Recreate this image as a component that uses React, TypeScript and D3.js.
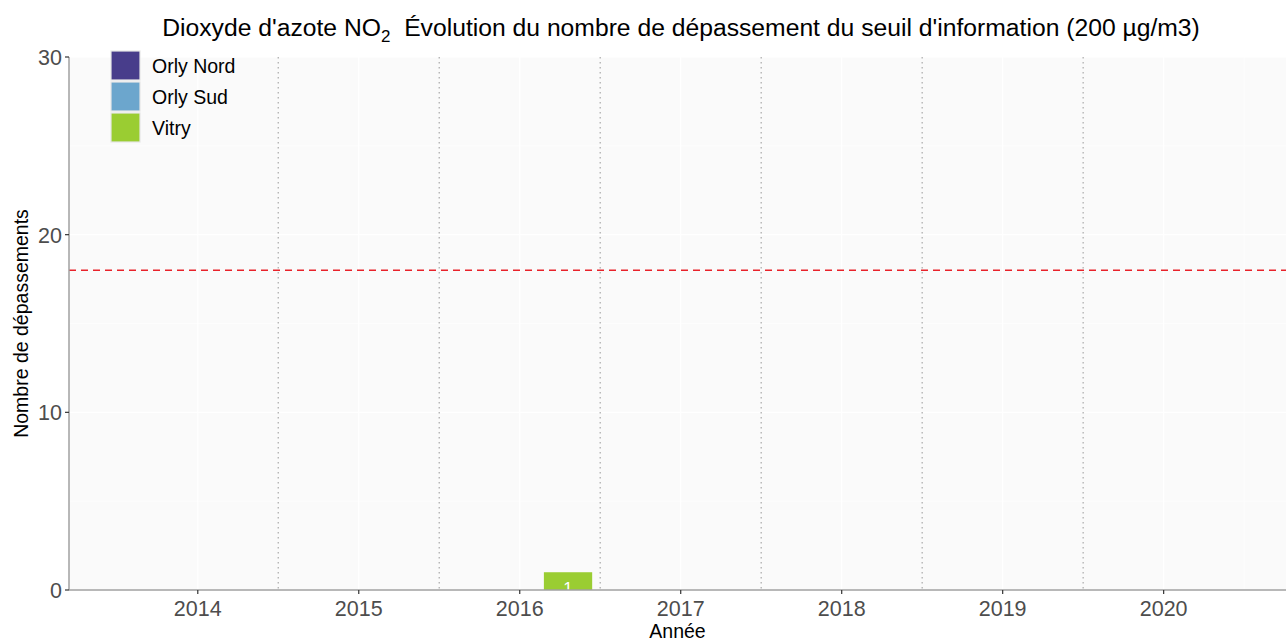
import { useEffect, useRef } from "react";
import * as d3 from "d3";

// Données
const years = ["2014", "2015", "2016", "2017", "2018", "2019", "2020"];
const stations = ["Orly Nord", "Orly Sud", "Vitry"];
const stationColors = ["#483D8B", "#6CA6CD", "#9ACD32"];
const orlyNord = [0, 0, 0, 0, 0, 0, 0];
const orlySud = [0, 0, 0, 0, 0, 0, 0];
const vitry = [0, 0, 1, 0, 0, 0, 0];
const yTicks = [0, 10, 20, 30];
const seuil = 18;

export default function App() {
  const ref = useRef<SVGSVGElement>(null);

  useEffect(() => {
    const width = 1286;
    const height = 641;
    const margin = { top: 57, right: 0, bottom: 51, left: 69 };
    const font = "'Liberation Sans', Arial, sans-serif";

    const svg = d3.select(ref.current);
    svg.selectAll("*").remove();

    // échelle x continue sur l'indice des années (axe discret avec expansion)
    const x = d3
      .scaleLinear()
      .domain([-0.8, years.length - 1 + 0.76])
      .range([margin.left, width - margin.right]);
    const y = d3
      .scaleLinear()
      .domain([0, 30])
      .range([height - margin.bottom, margin.top]);

    // fond du panneau
    svg
      .append("rect")
      .attr("x", margin.left)
      .attr("y", margin.top)
      .attr("width", width - margin.right - margin.left)
      .attr("height", y(0) - margin.top)
      .attr("fill", "#FAFAFA");

    const grid = svg.append("g");
    // grille mineure et majeure (blanche)
    [5, 15, 25].forEach((v) => {
      grid
        .append("line")
        .attr("x1", margin.left)
        .attr("x2", width - margin.right)
        .attr("y1", y(v))
        .attr("y2", y(v))
        .attr("stroke", "#fff")
        .attr("stroke-width", 0.6);
    });
    yTicks.forEach((v) => {
      grid
        .append("line")
        .attr("x1", margin.left)
        .attr("x2", width - margin.right)
        .attr("y1", y(v))
        .attr("y2", y(v))
        .attr("stroke", "#fff")
        .attr("stroke-width", 1.2);
    });
    years.forEach((yr, i) => {
      grid
        .append("line")
        .attr("x1", x(i))
        .attr("x2", x(i))
        .attr("y1", margin.top)
        .attr("y2", y(0))
        .attr("stroke", "#fff")
        .attr("stroke-width", 1.2);
    });
    grid
      .append("line")
      .attr("x1", x(years.length - 0.5))
      .attr("x2", x(years.length - 0.5))
      .attr("y1", margin.top)
      .attr("y2", y(0))
      .attr("stroke", "#fff")
      .attr("stroke-width", 0.6);

    // séparateurs pointillés entre années
    d3.range(years.length - 1).forEach((i) => {
      svg
        .append("line")
        .attr("x1", x(i + 0.5))
        .attr("x2", x(i + 0.5))
        .attr("y1", margin.top)
        .attr("y2", y(0))
        .attr("stroke", "#B4B4B4")
        .attr("stroke-width", 1.4)
        .attr("stroke-dasharray", "1.6,3.4");
    });

    // seuil
    svg
      .append("line")
      .attr("x1", margin.left)
      .attr("x2", width - margin.right)
      .attr("y1", y(seuil))
      .attr("y2", y(seuil))
      .attr("stroke", "#E8222A")
      .attr("stroke-width", 1.4)
      .attr("stroke-dasharray", "7,5");

    // barres groupées
    const series = [orlyNord, orlySud, vitry];
    const barW = 0.3;
    series.forEach((vals, s) => {
      vals.forEach((v, i) => {
        if (!v) return;
        const x0 = x(i - 0.45 + s * barW);
        const x1 = x(i - 0.45 + (s + 1) * barW);
        svg
          .append("rect")
          .attr("x", x0)
          .attr("y", y(v))
          .attr("width", x1 - x0)
          .attr("height", y(0) - y(v))
          .attr("fill", stationColors[s]);
        svg
          .append("text")
          .attr("x", (x0 + x1) / 2)
          .attr("y", y(v) + 22)
          .attr("text-anchor", "middle")
          .attr("fill", "#fff")
          .attr("font-family", font)
          .attr("font-size", 17)
          .text(v);
      });
    });

    // axes
    svg
      .append("line")
      .attr("x1", margin.left)
      .attr("x2", margin.left)
      .attr("y1", margin.top)
      .attr("y2", y(0))
      .attr("stroke", "#A0A0A0")
      .attr("stroke-width", 1.5);
    svg
      .append("line")
      .attr("x1", margin.left)
      .attr("x2", width - margin.right)
      .attr("y1", y(0))
      .attr("y2", y(0))
      .attr("stroke", "#A0A0A0")
      .attr("stroke-width", 1.5);

    yTicks.forEach((v) => {
      svg
        .append("line")
        .attr("x1", margin.left - 4)
        .attr("x2", margin.left)
        .attr("y1", y(v))
        .attr("y2", y(v))
        .attr("stroke", "#333")
        .attr("stroke-width", 1.2);
      svg
        .append("text")
        .attr("x", margin.left - 7)
        .attr("y", y(v) + 8)
        .attr("text-anchor", "end")
        .attr("fill", "#4D4D4D")
        .attr("font-family", font)
        .attr("font-size", 21.5)
        .text(v);
    });

    years.forEach((yr, i) => {
      svg
        .append("line")
        .attr("x1", x(i))
        .attr("x2", x(i))
        .attr("y1", y(0))
        .attr("y2", y(0) + 4)
        .attr("stroke", "#333")
        .attr("stroke-width", 1.2);
      svg
        .append("text")
        .attr("x", x(i))
        .attr("y", y(0) + 26)
        .attr("text-anchor", "middle")
        .attr("fill", "#4D4D4D")
        .attr("font-family", font)
        .attr("font-size", 21.5)
        .text(yr);
    });

    // titres des axes
    svg
      .append("text")
      .attr("x", (margin.left + width - margin.right) / 2)
      .attr("y", 638)
      .attr("text-anchor", "middle")
      .attr("fill", "#000")
      .attr("font-family", font)
      .attr("font-size", 19.5)
      .text("Année");
    svg
      .append("text")
      .attr("transform", `translate(28,${(margin.top + y(0)) / 2}) rotate(-90)`)
      .attr("text-anchor", "middle")
      .attr("fill", "#000")
      .attr("font-family", font)
      .attr("font-size", 19.5)
      .text("Nombre de dépassements");

    // titre
    const title = svg
      .append("text")
      .attr("x", 681)
      .attr("y", 36)
      .attr("text-anchor", "middle")
      .attr("fill", "#000")
      .attr("font-family", font)
      .attr("font-size", 24.7);
    title.append("tspan").text("Dioxyde d'azote NO");
    title.append("tspan").attr("font-size", 17).attr("dy", 6).text("2");
    title
      .append("tspan")
      .attr("dy", -6)
      .text("\u00a0 Évolution du nombre de dépassement du seuil d'information (200 µg/m3)");

    // légende
    stations.forEach((name, s) => {
      const ly = 51 + s * 31;
      svg
        .append("rect")
        .attr("x", 111)
        .attr("y", ly)
        .attr("width", 29)
        .attr("height", 29)
        .attr("fill", stationColors[s])
        .attr("stroke", "#E6E6E6")
        .attr("stroke-width", 1.2);
      svg
        .append("text")
        .attr("x", 152)
        .attr("y", ly + 22)
        .attr("fill", "#000")
        .attr("font-family", font)
        .attr("font-size", 19.5)
        .text(name);
    });
  }, []);

  return (
    <svg
      ref={ref}
      width={1286}
      height={641}
      style={{ position: "absolute", left: 0, top: 0, background: "#fff" }}
    ></svg>
  );
}
